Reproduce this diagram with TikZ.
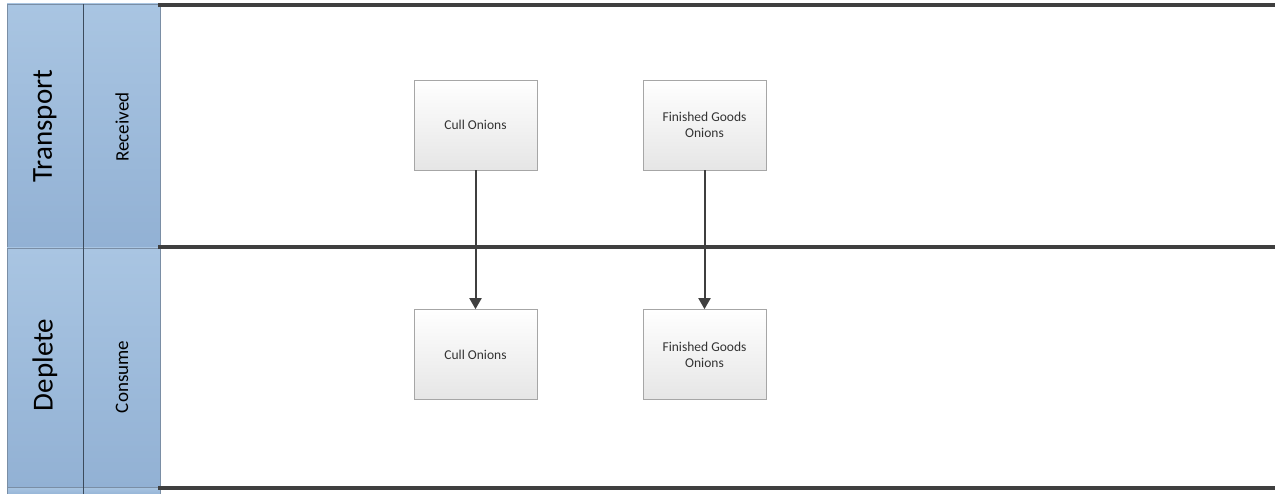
\documentclass[tikz,border=0pt]{standalone}
\usepackage{fontspec}
\setmainfont{Carlito}
\usetikzlibrary{arrows.meta,shadings}
\definecolor{hdrtop}{HTML}{A9C5E2}
\definecolor{hdrbot}{HTML}{92B1D4}
\definecolor{hdrline}{HTML}{7A8EA5}
\definecolor{divline}{HTML}{3C4B5C}
\definecolor{laneline}{HTML}{3F3F3F}
\definecolor{boxline}{HTML}{A6A6A6}
\definecolor{txtgray}{HTML}{333333}
\tikzset{
  hdrcell/.style={draw=hdrline, line width=0.8pt, top color=hdrtop, bottom color=hdrbot},
  bigtext/.style={rotate=90, font=\fontsize{29}{32}\selectfont, text=black},
  smalltext/.style={rotate=90, font=\fontsize{19}{22}\selectfont, text=black},
  procbox/.style={draw=boxline, line width=0.7pt, top color=white, bottom color=black!10,
    minimum width=123pt, minimum height=90pt, align=center, inner sep=2pt,
    font=\fontsize{13.5}{16}\selectfont, text=txtgray},
  laneedge/.style={draw=laneline, line width=3.4pt},
  flow/.style={draw=laneline, line width=2pt, -{Triangle[length=11pt,width=12pt]}}
}
\begin{document}
\begin{tikzpicture}[x=1pt,y=-1pt]
  \useasboundingbox[fill=white] (0,0) rectangle (1278,494);

  % lane header cells
  \shade[hdrcell] (7,4) rectangle (160,248);
  \shade[hdrcell] (7,248) rectangle (160,487);
  \shade[hdrcell] (7,487) rectangle (160,496);
  \draw[divline, line width=0.8pt] (83,4) -- (83,494);

  \node[bigtext] (lblTransport) at (45,126) {Transport};
  \node[smalltext] (lblReceived) at (122,127) {Received};
  \node[bigtext] (lblDeplete) at (45,365) {Deplete};
  \node[smalltext] (lblConsume) at (122,377) {Consume};

  % lane boundaries
  \coordinate (t0) at (158,5);   \coordinate (t1) at (1275,5);
  \coordinate (m0) at (158,247); \coordinate (m1) at (1275,247);
  \coordinate (b0) at (158,488); \coordinate (b1) at (1275,488);
  \draw[laneedge] (t0) -- (t1);
  \draw[laneedge] (m0) -- (m1);
  \draw[laneedge] (b0) -- (b1);

  % process boxes
  \node[procbox] (cullR) at (475.5,125) {Cull Onions};
  \node[procbox] (fgR) at (704.5,125) {Finished Goods\\Onions};
  \node[procbox] (cullC) at (475.5,354.5) {Cull Onions};
  \node[procbox] (fgC) at (704.5,354.5) {Finished Goods\\Onions};

  % flows
  \draw[flow] (cullR.south) -- (cullC.north);
  \draw[flow] (fgR.south) -- (fgC.north);
\end{tikzpicture}
\end{document}
